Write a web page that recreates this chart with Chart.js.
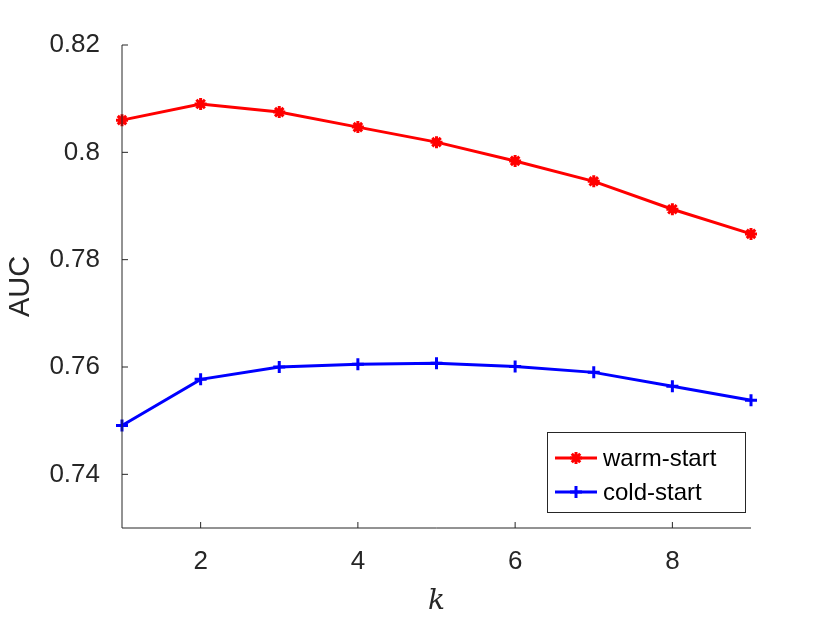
<!DOCTYPE html>
<html>
<head>
<meta charset="utf-8">
<script src="https://cdn.jsdelivr.net/npm/chart.js@4/dist/chart.umd.min.js"></script>
<style>
  html, body { margin: 0; padding: 0; background: #fff; }
  #wrap { width: 830px; height: 623px; }
</style>
</head>
<body>
<div id="wrap"><canvas id="grafico"></canvas></div>
<script>
const kValues = [1, 2, 3, 4, 5, 6, 7, 8, 9];
const warmStart = [0.806, 0.809, 0.8075, 0.8047, 0.8019, 0.7984, 0.7946, 0.7894, 0.7848];
const coldStart = [0.7491, 0.7577, 0.760, 0.7605, 0.7607, 0.7601, 0.7590, 0.7564, 0.7538];
const yTicks = [0.74, 0.76, 0.78, 0.8, 0.82];
const xTicks = [2, 4, 6, 8];

const fonte = "Liberation Sans, Arial, sans-serif";

// small inward ticks + legend box drawn by hand, like the matlab figure
const matlabAxes = {
  id: "matlabAxes",
  afterDraw(chart) {
    const ctx = chart.ctx;
    const a = chart.chartArea;
    const x = chart.scales.x;
    const y = chart.scales.y;
    ctx.save();
    ctx.strokeStyle = "#262626";
    ctx.lineWidth = 1;
    ctx.beginPath();
    ctx.moveTo(a.left, a.top);
    ctx.lineTo(a.left, a.bottom);
    ctx.lineTo(a.right, a.bottom);
    xTicks.forEach((v) => {
      const px = x.getPixelForValue(v);
      ctx.moveTo(px, a.bottom);
      ctx.lineTo(px, a.bottom - 6);
    });
    yTicks.forEach((v) => {
      const py = y.getPixelForValue(v);
      ctx.moveTo(a.left, py);
      ctx.lineTo(a.left + 6, py);
    });
    ctx.stroke();

    // legend
    const lx = 547, ly = 432, lw = 198, lh = 80;
    ctx.fillStyle = "#fff";
    ctx.fillRect(lx, ly, lw, lh);
    ctx.strokeStyle = "#262626";
    ctx.strokeRect(lx + 0.5, ly + 0.5, lw, lh);
    const items = [
      { label: "warm-start", color: "#ff0000", style: "star" },
      { label: "cold-start", color: "#0000ff", style: "cross" },
    ];
    ctx.font = "24px " + fonte;
    ctx.textBaseline = "middle";
    items.forEach((it, i) => {
      const cy = ly + 26 + i * 34;
      ctx.strokeStyle = it.color;
      ctx.lineWidth = 3;
      ctx.beginPath();
      ctx.moveTo(lx + 8, cy);
      ctx.lineTo(lx + 50, cy);
      ctx.stroke();
      Chart.helpers.drawPoint(ctx, { pointStyle: it.style, radius: 6, borderWidth: 3 }, lx + 29, cy);
      ctx.fillStyle = "#000";
      ctx.fillText(it.label, lx + 56, cy + 1);
    });
    ctx.restore();
  },
};

const chart = new Chart(document.getElementById("grafico"), {
  type: "line",
  data: {
    labels: kValues,
    datasets: [
      {
        label: "warm-start",
        data: kValues.map((k, i) => ({ x: k, y: warmStart[i] })),
        borderColor: "#ff0000",
        backgroundColor: "#ff0000",
        borderWidth: 3,
        pointStyle: "star",
        pointRadius: 6,
        pointBorderWidth: 3,
        clip: false,
      },
      {
        label: "cold-start",
        data: kValues.map((k, i) => ({ x: k, y: coldStart[i] })),
        borderColor: "#0000ff",
        backgroundColor: "#0000ff",
        borderWidth: 3,
        pointStyle: "cross",
        pointRadius: 6,
        pointBorderWidth: 3,
        clip: false,
      },
    ],
  },
  options: {
    responsive: true,
    maintainAspectRatio: false,
    animation: false,
    layout: { padding: { top: 45, right: 79, left: 0, bottom: 0 } },
    plugins: { legend: { display: false }, tooltip: { enabled: false } },
    scales: {
      x: {
        type: "linear",
        min: 1,
        max: 9,
        afterFit: (s) => { s.height = 95; },
        afterBuildTicks: (s) => { s.ticks = xTicks.map((v) => ({ value: v })); },
        grid: { display: false },
        border: { display: false },
        ticks: { color: "#262626", font: { size: 26, family: fonte }, padding: 10 },
        title: {
          display: true,
          text: "k",
          color: "#262626",
          font: { size: 28, family: "DejaVu Serif, serif", style: "italic" },
          padding: { top: 2 },
        },
      },
      y: {
        min: 0.73,
        max: 0.82,
        afterFit: (s) => { s.width = 122; },
        afterBuildTicks: (s) => { s.ticks = yTicks.map((v) => ({ value: v })); },
        grid: { display: false },
        border: { display: false },
        ticks: {
          color: "#262626",
          font: { size: 26, family: fonte },
          padding: 14,
          callback: (v) => String(+v.toFixed(2)),
        },
        title: {
          display: true,
          text: "AUC",
          color: "#262626",
          font: { size: 29, family: fonte },
          padding: { bottom: 0 },
        },
      },
    },
  },
  plugins: [matlabAxes],
});
</script>
</body>
</html>
